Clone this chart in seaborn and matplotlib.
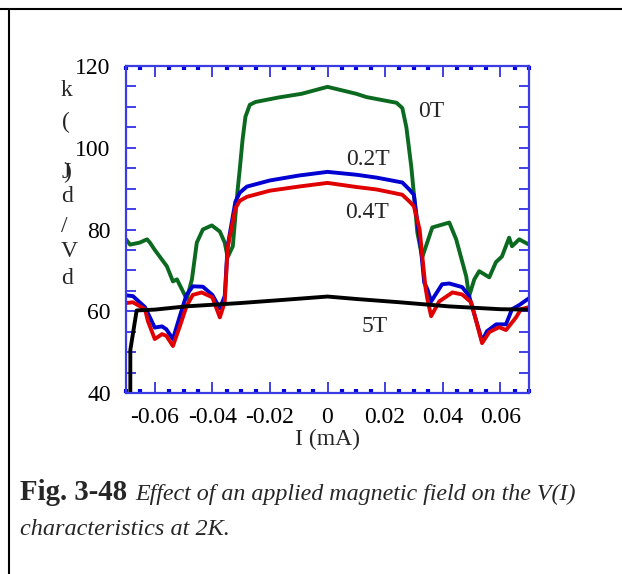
import numpy as np
import pandas as pd
import matplotlib
matplotlib.use("Agg")
import matplotlib.pyplot as plt
import seaborn as sns
from matplotlib.lines import Line2D
from matplotlib.ticker import MultipleLocator, FixedLocator, FixedFormatter

# ---------------- data ----------------
x_0T = [-0.0700, -0.0686, -0.0652, -0.0627, -0.0617, -0.0600, -0.0558, -0.0537, -0.0523,
        -0.0506, -0.0489, -0.0471, -0.0454, -0.0433, -0.0402, -0.0374, -0.0357, -0.0347,
        -0.0329, -0.0312, -0.0305, -0.0295, -0.0285, -0.0270, -0.0250, -0.0170, -0.0090,
        0.0000, 0.0100, 0.0135, 0.0240, 0.0260, 0.0274, 0.0291, 0.0302, 0.0312, 0.0329,
        0.0364, 0.0423, 0.0447, 0.0482, 0.0492, 0.0510, 0.0527, 0.0562, 0.0585, 0.0606,
        0.0631, 0.0641, 0.0666, 0.0700]
y_0T = [77.6, 76.3, 76.8, 77.6, 76.8, 75.0, 71.0, 67.3, 67.8,
        65.4, 63.0, 67.8, 76.8, 80.0, 81.0, 79.5, 76.8, 73.2,
        75.9, 89.8, 94.6, 102.0, 107.6, 110.5, 111.2, 112.3, 113.2,
        114.9, 113.2, 112.4, 111.0, 109.7, 105.0, 95.4, 87.3, 79.3, 73.2,
        80.5, 81.7, 77.6, 68.5, 63.7, 67.8, 69.8, 68.3, 72.0, 73.4,
        78.0, 75.9, 77.6, 76.3]

x_02T = [-0.0700, -0.0676, -0.0634, -0.0600, -0.0575, -0.0560, -0.0537, -0.0513, -0.0490,
         -0.0468, -0.0433, -0.0400, -0.0374, -0.0357, -0.0347, -0.0320, -0.0305, -0.0280,
         -0.0200, -0.0100, 0.0000, 0.0100, 0.0170, 0.0260, 0.0284, 0.0300, 0.0310, 0.0325,
         0.0336, 0.0347, 0.0360, 0.0398, 0.0423, 0.0468, 0.0492, 0.0537, 0.0554, 0.0586,
         0.0620, 0.0641, 0.0666, 0.0700]
y_02T = [63.9, 63.7, 61.0, 56.0, 56.3, 55.6, 53.2, 58.8, 64.0,
         66.1, 66.0, 64.0, 60.7, 63.7, 75.9, 86.8, 89.0, 90.5,
         92.0, 93.2, 94.1, 93.4, 92.7, 91.5, 89.8, 88.5, 83.0, 75.0,
         67.0, 65.4, 62.4, 66.6, 66.8, 65.9, 63.7, 52.7, 55.1, 56.8,
         56.8, 60.5, 61.5, 63.2]

x_04T = [-0.0700, -0.0676, -0.0634, -0.0624, -0.0600, -0.0575, -0.0560, -0.0537, -0.0513,
         -0.0490, -0.0468, -0.0437, -0.0400, -0.0374, -0.0357, -0.0347, -0.0320, -0.0305,
         -0.0280, -0.0200, -0.0100, 0.0000, 0.0100, 0.0170, 0.0260, 0.0284, 0.0300, 0.0320,
         0.0340, 0.0347, 0.0360, 0.0388, 0.0434, 0.0468, 0.0499, 0.0537, 0.0562, 0.0596,
         0.0620, 0.0655, 0.0672, 0.0700]
y_04T = [62.0, 62.2, 60.5, 57.6, 53.2, 54.4, 54.0, 51.5, 56.3,
         61.2, 64.0, 64.6, 63.4, 58.5, 62.2, 75.5, 85.2, 87.0,
         88.0, 89.5, 90.5, 91.4, 90.4, 89.8, 88.5, 86.9, 85.7, 80.0,
         66.0, 63.0, 58.8, 62.4, 64.6, 64.1, 62.2, 52.2, 54.9, 56.1,
         55.4, 58.5, 60.5, 61.0]

x_5T = [-0.0685, -0.0685, -0.0663, -0.0600, -0.0490, -0.0305, -0.0150, 0.0000, 0.0100,
        0.0250, 0.0420, 0.0600, 0.0700]
y_5T = [40.0, 50.5, 60.2, 60.4, 61.2, 62.0, 62.8, 63.6, 63.0,
        62.2, 61.2, 60.5, 60.4]

series_names = ["0T", "0.2T", "0.4T", "5T"]
series_colors = ["#0b6a1f", "#0000d2", "#e00000", "#000000"]

x_tick_values = [-0.06, -0.04, -0.02, 0.0, 0.02, 0.04, 0.06]
x_tick_labels = ["-0.06", "-0.04", "-0.02", "0", "0.02", "0.04", "0.06"]
y_tick_values = [40, 60, 80, 100, 120]
y_tick_labels = ["40", "60", "80", "100", "120"]

ylabel_chars = ["k", "(", "J", ")", "d", "/", "V", "d"]
caption_bold = "Fig. 3-48"
caption_line1 = "Effect of an applied magnetic field on the V(I)"
caption_line2 = "characteristics at 2K."
xlabel_text = "I (mA)"

# ---------------- frame ----------------
frames = []
for name, xs, ys in [("0T", x_0T, y_0T), ("0.2T", x_02T, y_02T),
                     ("0.4T", x_04T, y_04T), ("5T", x_5T, y_5T)]:
    frames.append(pd.DataFrame({"I": xs, "V": ys, "field": name,
                                "order": np.arange(len(xs))}))
df = pd.concat(frames, ignore_index=True)

sns.set_style("white")
plt.rcParams["font.family"] = ["Liberation Serif", "DejaVu Serif"]
plt.rcParams["axes.unicode_minus"] = False

FS = 17
W, H = 622, 574
fig = plt.figure(figsize=(W / 100, H / 100), dpi=100)
ax = fig.add_axes([126 / W, 1 - 393 / H, (529 - 126) / W, (393 - 66) / H])

for name, col in zip(series_names, series_colors):
    sub = df[df["field"] == name]
    sns.lineplot(data=sub, x="I", y="V", ax=ax, color=col, lw=2.8,
                 sort=False, estimator=None, legend=False)

ax.set_xlim(-0.07, 0.07)
ax.set_ylim(40, 120)

spine_col = "#3c3ce6"
for s in ax.spines.values():
    s.set_color(spine_col)
    s.set_linewidth(1.6)
    s.set_visible(True)

ax.xaxis.set_major_locator(FixedLocator(x_tick_values))
ax.xaxis.set_major_formatter(FixedFormatter(x_tick_labels))
ax.xaxis.set_minor_locator(MultipleLocator(0.005))
ax.yaxis.set_major_locator(FixedLocator(y_tick_values))
ax.yaxis.set_major_formatter(FixedFormatter(y_tick_labels))
ax.yaxis.set_minor_locator(MultipleLocator(5))

ax.tick_params(axis="x", which="major", direction="in", length=8, width=1.2,
               color="#2020e0", top=True, bottom=True, labelsize=FS, pad=10,
               labelcolor="black")
ax.tick_params(axis="x", which="minor", direction="in", length=3, width=3,
               color="#0000dd", top=True, bottom=True)
ax.tick_params(axis="y", which="major", direction="in", length=7, width=1.2,
               color="#2020e0", left=True, right=True, labelsize=FS, pad=11,
               labelcolor="black")
ax.tick_params(axis="y", which="minor", direction="in", length=7, width=1.2,
               color="#2020e0", left=True, right=True)

ax.set_xlabel(xlabel_text, fontsize=FS, labelpad=1)
ax.set_ylabel("")

# curve labels
ax.text(0.036, 108.8, "0T", fontsize=FS, ha="center", va="center")
ax.text(0.0139, 97.1, "0.2T", fontsize=FS, ha="center", va="center")
ax.text(0.0139, 84.1, "0.4T", fontsize=FS, ha="center", va="center")
ax.text(0.0163, 56.3, "5T", fontsize=FS, ha="center", va="center")

# stacked y label characters
ylab_pos = [(61, 91), (62, 122), (61, 172), (63, 172), (61, 197), (61, 227), (61, 252), (61, 279)]
for ch, (px, py) in zip(ylabel_chars, ylab_pos):
    fig.text(px / W, 1 - py / H, ch, fontsize=FS, ha="left", va="center")

# frame lines
fig.add_artist(Line2D([0, 1], [1 - 9 / H, 1 - 9 / H], color="black", lw=1.5,
                      transform=fig.transFigure))
fig.add_artist(Line2D([9 / W, 9 / W], [1 - 9 / H, 0], color="black", lw=1.5,
                      transform=fig.transFigure))

# caption
fig.text(20 / W, 1 - 500 / H, caption_bold, fontsize=20.8, fontweight="bold",
         ha="left", va="baseline")
fig.text(135 / W, 1 - 500 / H, caption_line1, fontsize=17.3, fontstyle="italic",
         ha="left", va="baseline")
fig.text(20 / W, 1 - 535 / H, caption_line2, fontsize=17.5, fontstyle="italic",
         ha="left", va="baseline")

fig.savefig("out.png", dpi=100)
